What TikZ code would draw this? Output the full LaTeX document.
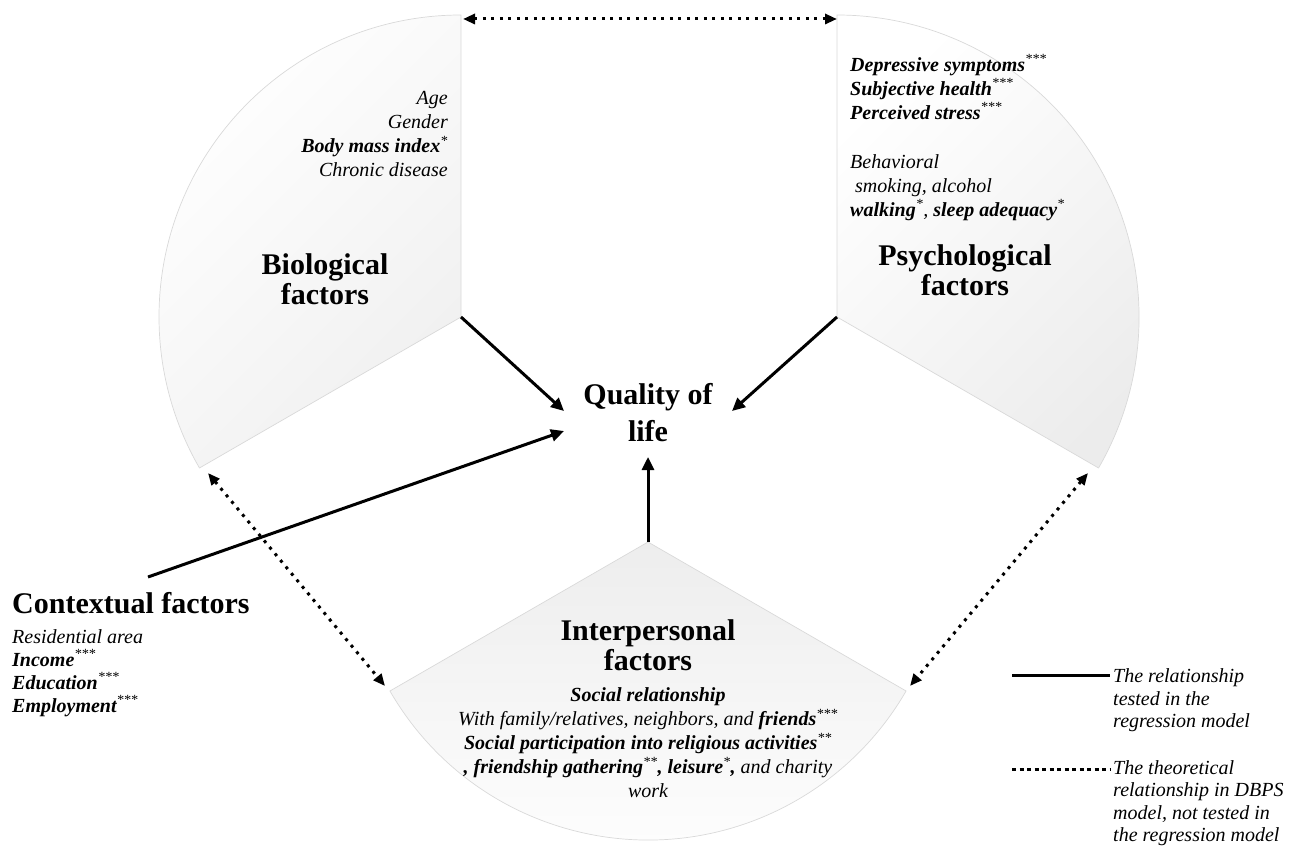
\documentclass[tikz,border=0pt]{standalone}
\usepackage{fontspec}
\setmainfont{Liberation Serif}
\usetikzlibrary{arrows.meta}
\newcommand\sg[1]{\smash{\textsuperscript{#1}}}
\begin{document}
\begin{tikzpicture}[x=1pt,y=1pt,
  sector/.style={draw=gray!30, line width=0.7pt},
  title/.style={font=\fontsize{30}{30}\selectfont\bfseries, align=center, inner sep=0pt},
  item/.style={font=\fontsize{20}{24}\selectfont\itshape, inner sep=0pt},
  legtext/.style={font=\fontsize{20}{22.5}\selectfont\itshape, inner sep=0pt, align=left, anchor=west},
  solidarrow/.style={line width=3pt, -{Triangle[length=13pt,width=12pt]}},
  dotarrow/.style={line width=3pt, dash pattern=on 3pt off 5.5pt, {Triangle[length=12pt,width=10pt]}-{Triangle[length=12pt,width=10pt]}},
]
\useasboundingbox (0,0) rectangle (1297,847);

% apexes of the three sectors
\coordinate (bioApex) at (461,530);
\coordinate (psyApex) at (837,530);
\coordinate (intApex) at (648,305);

% sectors
\shade[sector, top color=white, bottom color=gray!12, shading angle=45]
  (bioApex) -- ++(90:302) arc[start angle=90, end angle=210, radius=302pt] -- cycle;
\shade[sector, top color=white, bottom color=gray!15, shading angle=45]
  (psyApex) -- ++(-30:302) arc[start angle=-30, end angle=90, radius=302pt] -- cycle;
\shade[sector, top color=gray!14, bottom color=white]
  (intApex) -- ++(210:298) arc[start angle=210, end angle=330, radius=298pt] -- cycle;

% titles
\node[title] (bio) at (325,568) {Biological\\factors};
\node[title] (psy) at (965,577) {Psychological\\factors};
\node[title, font=\fontsize{30}{37}\selectfont\bfseries] (qol) at (648,434) {Quality of\\life};
\node[title] (int) at (648,202) {Interpersonal\\factors};
\node[title, anchor=base west] (ctx) at (12,234) {Contextual factors};

% item lists
\node[item, align=right, anchor=east] (bioList) at (448,712.6)
  {Age\\Gender\\{\bfseries Body mass index}\sg{*}\\Chronic disease};
\node[item, align=left, anchor=west] (psyList) at (850,708)
  {{\bfseries Depressive symptoms}\sg{***}\\
   {\bfseries Subjective health}\sg{***}\\
   {\bfseries Perceived stress}\sg{***}\\[25pt]
   Behavioral\\
   \hspace*{5pt}smoking, alcohol\\
   {\bfseries walking}\sg{*}, {\bfseries sleep adequacy}\sg{*}};
\node[item, align=center] (intList) at (648,104)
  {{\bfseries Social relationship}\\
   With family/relatives, neighbors, and {\bfseries friends}\sg{***}\\
   {\bfseries Social participation into religious activities}\sg{**}\\
   {\bfseries, friendship gathering}\sg{**}{\bfseries, leisure}\sg{*}{\bfseries,} and charity\\
   work};
\node[item, font=\fontsize{20}{23}\selectfont\itshape, align=left, anchor=west] (ctxList) at (12,174)
  {Residential area\\
   {\bfseries Income}\sg{***}\\
   {\bfseries Education}\sg{***}\\
   {\bfseries Employment}\sg{***}};

% arrow end points
\coordinate (qolBio) at (564,436);
\coordinate (qolPsy) at (732,436);
\coordinate (qolInt) at (648,390);
\coordinate (qolCtx) at (564,416);
\coordinate (ctxStart) at (148,270);

\draw[solidarrow] (bioApex) -- (qolBio);
\draw[solidarrow] (psyApex) -- (qolPsy);
\draw[solidarrow] (intApex) -- (qolInt);
\draw[solidarrow] (ctxStart) -- (qolCtx);

% dotted theoretical relations
\coordinate (bioTop) at (463,828);
\coordinate (psyTop) at (837,828);
\coordinate (bioLow) at (208,374);
\coordinate (intLeft) at (385,161);
\coordinate (psyLow) at (1088,374);
\coordinate (intRight) at (910,161);
\draw[dotarrow] (bioTop) -- (psyTop);
\draw[dotarrow] (bioLow) -- (intLeft);
\draw[dotarrow] (psyLow) -- (intRight);

% legend
\coordinate (legA1) at (1012,172);
\coordinate (legA2) at (1110,172);
\coordinate (legB1) at (1012,78);
\coordinate (legB2) at (1110,78);
\draw[line width=3pt] (legA1) -- (legA2);
\draw[line width=3pt, dash pattern=on 4pt off 3.5pt] (legB1) -- (legB2);
\node[legtext] (legSolid) at (1113,146.7) {The relationship\\tested in the\\regression model};
\node[legtext] (legDot) at (1113,44) {The theoretical\\relationship in DBPS\\model, not tested in\\the regression model};
\end{tikzpicture}
\end{document}
